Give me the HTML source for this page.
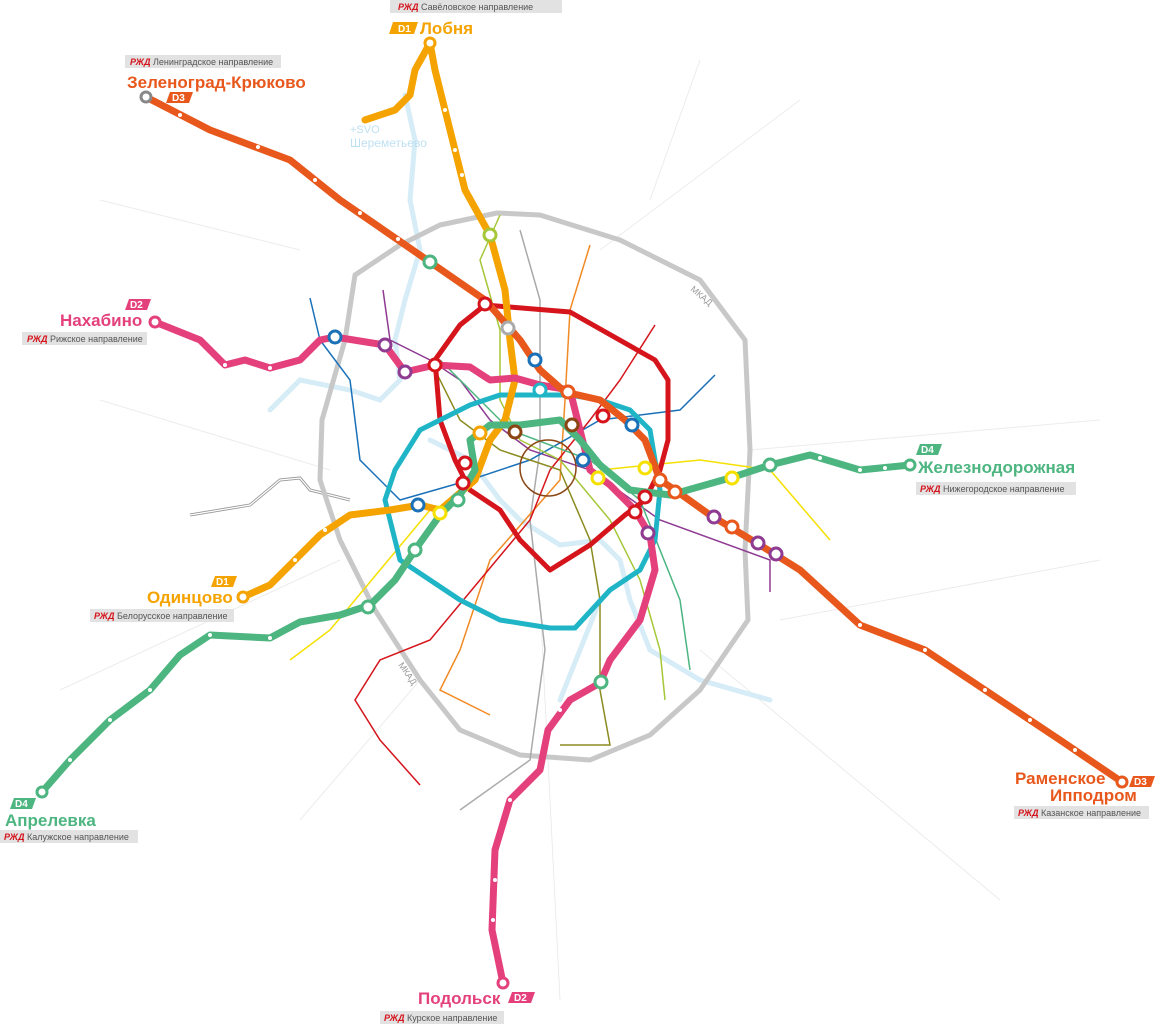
<!DOCTYPE html>
<html><head><meta charset="utf-8"><style>
body{margin:0;background:#fff;}
svg{display:block;font-family:"Liberation Sans",sans-serif;}
.tag{font-size:9px;fill:#555;}
.big{font-size:17px;font-weight:bold;}
</style></head><body>
<svg width="1157" height="1026" viewBox="0 0 1157 1026" xmlns="http://www.w3.org/2000/svg">
<!-- faint roads -->
<g stroke="#ececec" stroke-width="1" fill="none">
<path d="M100 400 L330 470 M60 690 L340 560 M540 600 L560 1000 M750 450 L1100 420 M700 650 L1000 900 M420 680 L300 820 M600 250 L800 100 M300 250 L100 200 M650 200 L700 60 M780 620 L1100 560"/>
</g>
<!-- rivers -->
<g stroke="#d6ecf7" stroke-width="5" fill="none" stroke-linecap="round">
<path d="M405 95 L415 140 L410 200 L420 250 L405 300 L395 340 L400 380 L380 400 L350 390 L300 380 L270 410"/>
<path d="M430 440 L470 460 L500 500 L520 520 L560 545 L600 540 L620 560 L630 600 L650 650 L700 680 L770 700"/>
<path d="M600 600 L580 650 L560 700"/>
</g>
<path d="M190 515 L250 505 L280 480 L300 478 L310 490 L330 495 L350 500" stroke="#999" stroke-width="3" fill="none"/>
<path d="M190 515 L250 505 L280 480 L300 478 L310 490 L330 495 L350 500" stroke="#fff" stroke-width="1.2" fill="none"/>
<!-- MKAD -->
<path d="M497 213 L540 215 L620 240 L700 280 L745 340 L750 450 L745 550 L748 620 L700 690 L650 735 L590 760 L520 755 L460 730 L420 680 L375 610 L340 540 L320 480 L322 420 L345 340 L355 275 L400 245 L440 225 Z" stroke="#c8c8c8" stroke-width="5" fill="none" stroke-linejoin="round"/>
<text x="690" y="290" font-size="9" fill="#999" transform="rotate(40 690 290)">МКАД</text>
<text x="398" y="665" font-size="9" fill="#999" transform="rotate(55 398 665)">МКАД</text>
<!-- thin metro lines -->
<g fill="none" stroke-width="1.5">
<path d="M520 230 L540 300 L540 450 L530 520 L545 650 L530 760 L460 810" stroke="#aaa"/>
<path d="M590 245 L570 310 L565 400 L560 480 L490 560 L460 650 L440 690 L490 715" stroke="#f08a24"/>
<path d="M383 290 L390 340 L430 360 L460 380 L490 420 L530 450 L590 470 L660 520 L770 560 L770 592" stroke="#8e3b91"/>
<path d="M310 298 L320 340 L350 380 L360 460 L400 500 L470 480 L530 460 L600 420 L680 410 L715 375" stroke="#1a71b8"/>
<path d="M500 215 L480 260 L500 330 L500 400 L520 440 L560 460 L610 520 L640 580 L660 650 L665 700" stroke="#a5c739"/>
<path d="M655 325 L620 380 L590 420 L550 470 L530 520 L480 580 L430 640 L380 660 L355 700 L380 740 L420 785" stroke="#d5141c"/>
<path d="M430 360 L460 420 L500 450 L560 470 L590 540 L600 600 L600 690 L610 745 L560 745" stroke="#8b8b20"/>
<path d="M440 360 L470 390 L510 430 L590 460 L640 500 L680 600 L690 670" stroke="#4cb580"/>
<path d="M600 470 L700 460 L770 470 L830 540" stroke="#f5e000"/>
<path d="M430 510 L380 570 L330 630 L290 660" stroke="#f5e000"/>
</g>
<circle cx="548" cy="468" r="28" fill="none" stroke="#8b4513" stroke-width="1.5"/>
<!-- MCC -->
<path d="M485 305 L570 312 L655 360 L668 380 L668 440 L660 470 L645 500 L625 515 L590 545 L550 570 L520 540 L500 510 L470 490 L455 460 L440 420 L435 360 L460 325 Z" stroke="#d5141c" stroke-width="5" fill="none" stroke-linejoin="round"/>
<!-- BKL -->
<path d="M470 405 L420 430 L395 470 L385 500 L400 560 L430 580 L460 600 L500 620 L550 628 L575 628 L610 590 L640 570 L655 540 L660 490 L650 430 L630 410 L600 400 L570 395 L500 395 Z" stroke="#20b5c6" stroke-width="5" fill="none" stroke-linejoin="round"/>
<!-- D lines -->
<g fill="none" stroke-width="7" stroke-linejoin="round" stroke-linecap="round">
<path d="M365 120 L395 110 L410 95 L415 70 L430 43 L435 70 L465 190 L490 235 L505 290 L510 340 L515 380 L505 420 L490 440 L475 480 L440 510 L420 505 L390 510 L350 515 L320 535 L295 560 L270 585 L243 597" stroke="#f5a300"/>
<path d="M155 322 L200 340 L225 365 L245 360 L270 368 L300 360 L320 340 L335 337 L385 345 L405 372 L435 365 L470 367 L490 380 L515 378 L540 385 L570 390 L580 430 L590 470 L610 485 L635 510 L650 535 L655 570 L640 620 L610 660 L600 683 L570 700 L548 730 L540 770 L510 800 L495 850 L492 930 L503 983" stroke="#e4407b"/>
<path d="M146 97 L210 130 L290 160 L340 200 L430 262 L485 300 L520 340 L540 370 L565 392 L600 400 L625 420 L645 440 L660 480 L675 490 L710 515 L760 545 L800 570 L860 625 L925 650 L1000 700 L1060 740 L1122 782" stroke="#e8581c"/>
<path d="M42 792 L70 760 L110 720 L150 690 L180 655 L210 635 L270 638 L300 622 L340 615 L370 605 L395 580 L415 550 L440 515 L460 495 L475 470 L470 440 L490 425 L520 425 L560 420 L580 440 L600 465 L630 490 L670 495 L730 478 L770 465 L810 455 L860 470 L910 465" stroke="#4cb580"/>
</g>
<!-- terminal circles -->
<g fill="#fff" stroke-width="3">
<circle cx="430" cy="43" r="5" stroke="#f5a300"/>
<circle cx="243" cy="597" r="5" stroke="#f5a300"/>
<circle cx="155" cy="322" r="5" stroke="#e4407b"/>
<circle cx="503" cy="983" r="5" stroke="#e4407b"/>
<circle cx="146" cy="97" r="5" stroke="#888"/>
<circle cx="1122" cy="782" r="5" stroke="#e8581c"/>
<circle cx="42" cy="792" r="5" stroke="#4cb580"/>
<circle cx="910" cy="465" r="5" stroke="#4cb580"/>
</g>
<!-- transfer rings -->
<g fill="#fff" stroke-width="3">
<circle cx="490" cy="235" r="6" stroke="#a5c739"/><circle cx="430" cy="262" r="6" stroke="#4cb580"/>
<circle cx="485" cy="304" r="6" stroke="#d5141c"/><circle cx="508" cy="328" r="6" stroke="#aaa"/>
<circle cx="335" cy="337" r="6" stroke="#1a71b8"/><circle cx="385" cy="345" r="6" stroke="#8e3b91"/>
<circle cx="405" cy="372" r="6" stroke="#8e3b91"/><circle cx="435" cy="365" r="6" stroke="#d5141c"/>
<circle cx="535" cy="360" r="6" stroke="#1a71b8"/><circle cx="568" cy="392" r="6" stroke="#e8581c"/>
<circle cx="540" cy="390" r="6" stroke="#20b5c6"/><circle cx="603" cy="416" r="6" stroke="#d5141c"/>
<circle cx="632" cy="425" r="6" stroke="#1a71b8"/><circle cx="660" cy="480" r="6" stroke="#e8581c"/>
<circle cx="675" cy="492" r="6" stroke="#e8581c"/><circle cx="645" cy="497" r="6" stroke="#d5141c"/>
<circle cx="635" cy="512" r="6" stroke="#d5141c"/><circle cx="648" cy="533" r="6" stroke="#8e3b91"/>
<circle cx="714" cy="517" r="6" stroke="#8e3b91"/><circle cx="732" cy="527" r="6" stroke="#e8581c"/>
<circle cx="758" cy="543" r="6" stroke="#8e3b91"/><circle cx="776" cy="554" r="6" stroke="#8e3b91"/>
<circle cx="732" cy="478" r="6" stroke="#f5e000"/><circle cx="770" cy="465" r="6" stroke="#4cb580"/>
<circle cx="418" cy="505" r="6" stroke="#1a71b8"/><circle cx="440" cy="513" r="6" stroke="#f5e000"/>
<circle cx="458" cy="500" r="6" stroke="#4cb580"/><circle cx="463" cy="483" r="6" stroke="#d5141c"/>
<circle cx="465" cy="463" r="6" stroke="#d5141c"/><circle cx="480" cy="433" r="6" stroke="#f5a300"/>
<circle cx="415" cy="550" r="6" stroke="#4cb580"/><circle cx="368" cy="607" r="6" stroke="#4cb580"/>
<circle cx="601" cy="682" r="6" stroke="#4cb580"/><circle cx="598" cy="478" r="6" stroke="#f5e000"/>
<circle cx="645" cy="468" r="6" stroke="#f5e000"/><circle cx="583" cy="460" r="6" stroke="#1a71b8"/>
<circle cx="572" cy="425" r="6" stroke="#8b4513"/><circle cx="515" cy="432" r="6" stroke="#8b4513"/>
</g>
<!-- small station dots on D lines -->
<g fill="#fff">
<circle cx="180" cy="115" r="2"/><circle cx="258" cy="147" r="2"/><circle cx="315" cy="180" r="2"/><circle cx="360" cy="213" r="2"/><circle cx="398" cy="239" r="2"/>
<circle cx="860" cy="625" r="2"/><circle cx="925" cy="650" r="2"/><circle cx="985" cy="690" r="2"/><circle cx="1030" cy="720" r="2"/><circle cx="1075" cy="750" r="2"/>
<circle cx="445" cy="110" r="2"/><circle cx="455" cy="150" r="2"/><circle cx="462" cy="175" r="2"/>
<circle cx="495" cy="880" r="2"/><circle cx="493" cy="920" r="2"/><circle cx="510" cy="800" r="2"/><circle cx="560" cy="710" r="2"/>
<circle cx="70" cy="760" r="2"/><circle cx="110" cy="720" r="2"/><circle cx="150" cy="690" r="2"/><circle cx="210" cy="635" r="2"/><circle cx="270" cy="638" r="2"/>
<circle cx="820" cy="458" r="2"/><circle cx="860" cy="470" r="2"/><circle cx="885" cy="468" r="2"/>
<circle cx="225" cy="365" r="2"/><circle cx="270" cy="368" r="2"/><circle cx="295" cy="560" r="2"/><circle cx="325" cy="530" r="2"/>
</g>
<!-- labels -->
<g>
<rect x="390" y="0" width="172" height="13" fill="#e2e2e2"/><text x="398" y="10" class="tag"><tspan fill="#d5141c" font-weight="bold" font-style="italic">РЖД</tspan> Савёловское направление</text>
<path d="M393 22 L418 22 L414 34 L389 34 Z" fill="#f5a300"/><text x="398" y="32" font-size="10" font-weight="bold" fill="#fff">D1</text>
<text x="420" y="34" class="big" fill="#f5a300">Лобня</text>
<text x="350" y="133" font-size="11" fill="#bfe0f2">+SVO</text><text x="350" y="147" font-size="12" fill="#bfe0f2">Шереметьево</text>

<rect x="125" y="55" width="156" height="13" fill="#e2e2e2"/><text x="130" y="65" class="tag"><tspan fill="#d5141c" font-weight="bold" font-style="italic">РЖД</tspan> Ленинградское направление</text>
<text x="127" y="88" class="big" fill="#e8581c">Зеленоград-Крюково</text>
<path d="M170 92 L193 92 L189 103 L166 103 Z" fill="#e8581c"/><text x="172" y="101" font-size="10" font-weight="bold" fill="#fff">D3</text>

<path d="M129 299 L151 299 L147 310 L125 310 Z" fill="#e4407b"/><text x="130" y="308" font-size="10" font-weight="bold" fill="#fff">D2</text>
<text x="60" y="326" class="big" fill="#e4407b">Нахабино</text>
<rect x="22" y="332" width="125" height="13" fill="#e2e2e2"/><text x="27" y="342" class="tag"><tspan fill="#d5141c" font-weight="bold" font-style="italic">РЖД</tspan> Рижское направление</text>

<path d="M215 576 L237 576 L233 587 L211 587 Z" fill="#f5a300"/><text x="216" y="585" font-size="10" font-weight="bold" fill="#fff">D1</text>
<text x="147" y="603" class="big" fill="#f5a300">Одинцово</text>
<rect x="90" y="609" width="144" height="13" fill="#e2e2e2"/><text x="94" y="619" class="tag"><tspan fill="#d5141c" font-weight="bold" font-style="italic">РЖД</tspan> Белорусское направление</text>

<path d="M14 798 L36 798 L32 809 L10 809 Z" fill="#4cb580"/><text x="15" y="807" font-size="10" font-weight="bold" fill="#fff">D4</text>
<text x="5" y="826" class="big" fill="#4cb580">Апрелевка</text>
<rect x="0" y="830" width="138" height="13" fill="#e2e2e2"/><text x="4" y="840" class="tag"><tspan fill="#d5141c" font-weight="bold" font-style="italic">РЖД</tspan> Калужское направление</text>

<path d="M920 444 L942 444 L938 455 L916 455 Z" fill="#4cb580"/><text x="921" y="453" font-size="10" font-weight="bold" fill="#fff">D4</text>
<text x="918" y="473" class="big" fill="#4cb580">Железнодорожная</text>
<rect x="916" y="482" width="160" height="13" fill="#e2e2e2"/><text x="920" y="492" class="tag"><tspan fill="#d5141c" font-weight="bold" font-style="italic">РЖД</tspan> Нижегородское направление</text>

<text x="1015" y="784" class="big" fill="#e8581c">Раменское</text>
<path d="M1133 776 L1155 776 L1151 787 L1129 787 Z" fill="#e8581c"/><text x="1134" y="785" font-size="10" font-weight="bold" fill="#fff">D3</text>
<text x="1050" y="801" class="big" fill="#e8581c">Ипподром</text>
<rect x="1014" y="806" width="135" height="13" fill="#e2e2e2"/><text x="1018" y="816" class="tag"><tspan fill="#d5141c" font-weight="bold" font-style="italic">РЖД</tspan> Казанское направление</text>

<text x="418" y="1004" class="big" fill="#e4407b">Подольск</text>
<path d="M512 992 L535 992 L531 1003 L508 1003 Z" fill="#e4407b"/><text x="514" y="1001" font-size="10" font-weight="bold" fill="#fff">D2</text>
<rect x="380" y="1011" width="124" height="13" fill="#e2e2e2"/><text x="384" y="1021" class="tag"><tspan fill="#d5141c" font-weight="bold" font-style="italic">РЖД</tspan> Курское направление</text>
</g>
</svg>
</body></html>
